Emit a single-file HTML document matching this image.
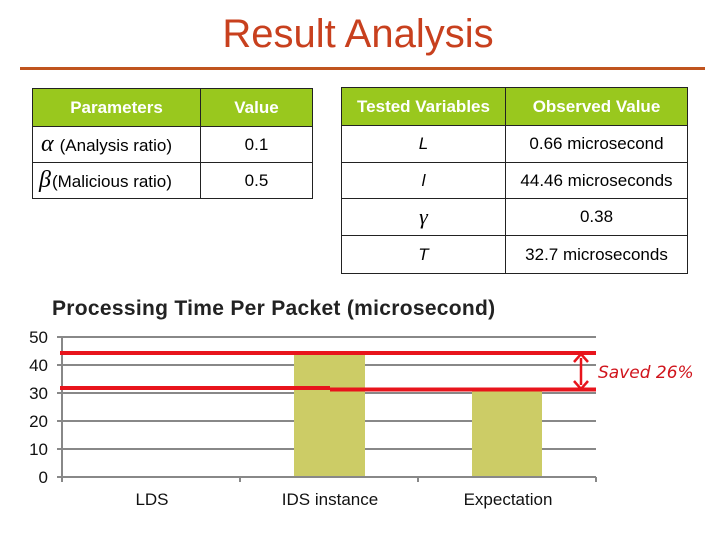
<!DOCTYPE html>
<html><head><style>
body{margin:0;width:720px;height:540px;background:#fff;position:relative;font-family:"Liberation Sans",sans-serif;overflow:hidden}
.a{position:absolute}
table{position:absolute;border-collapse:collapse;font-size:17px}
td{border:1.5px solid #222;text-align:center;padding:0}
th{background:#99c81e;color:#fff;font-weight:bold;border:1.5px solid #222;font-size:17px}
</style></head><body>
<div class="a" style="left:0;width:716px;top:12px;text-align:center;font-size:40px;color:#c8401e">Result Analysis</div>
<div class="a" style="left:20px;top:67px;width:685px;height:3px;background:#c0541e"></div>
<table style="left:32px;top:88px;width:281px">
<tr style="height:38px"><th style="width:165px">Parameters</th><th>Value</th></tr>
<tr style="height:36px"><td style="text-align:left;white-space:nowrap"><i style="font-family:'Liberation Serif';font-size:24px;padding:0 6px 0 8px">α</i>(Analysis ratio)</td><td>0.1</td></tr>
<tr style="height:36px"><td style="text-align:left;white-space:nowrap"><i style="font-family:'Liberation Serif';font-size:24px;padding:0 1px 0 6px">β</i>(Malicious ratio)</td><td>0.5</td></tr>
</table>
<table style="left:341px;top:87px;width:347px">
<tr style="height:38px"><th style="width:161px">Tested Variables</th><th>Observed Value</th></tr>
<tr style="height:37px"><td><i>L</i></td><td>0.66 microsecond</td></tr>
<tr style="height:36px"><td><i>l</i></td><td>44.46 microseconds</td></tr>
<tr style="height:37px"><td><i style="font-family:'Liberation Serif';font-size:22px">γ</i></td><td>0.38</td></tr>
<tr style="height:38px"><td><i>T</i></td><td>32.7 microseconds</td></tr>
</table>
<div class="a" style="left:52px;top:297px;font-size:21px;font-weight:bold;color:#222;white-space:nowrap;letter-spacing:0.3px">Processing Time Per Packet (microsecond)</div>
<svg class="a" style="left:0;top:0" width="720" height="540">
<g stroke="#888" stroke-width="2">
<line x1="62" x2="596" y1="337" y2="337"/><line x1="62" x2="596" y1="365" y2="365"/><line x1="62" x2="596" y1="393" y2="393"/><line x1="62" x2="596" y1="421" y2="421"/><line x1="62" x2="596" y1="449" y2="449"/><line x1="62" x2="596" y1="477" y2="477"/>
<line x1="62" x2="62" y1="337" y2="482"/><line x1="240" x2="240" y1="477" y2="482"/><line x1="418" x2="418" y1="477" y2="482"/><line x1="596" x2="596" y1="477" y2="482"/>
<line x1="57" x2="62" y1="337" y2="337"/><line x1="57" x2="62" y1="365" y2="365"/><line x1="57" x2="62" y1="393" y2="393"/><line x1="57" x2="62" y1="421" y2="421"/><line x1="57" x2="62" y1="449" y2="449"/><line x1="57" x2="62" y1="477" y2="477"/>
</g>
<rect x="294" y="353" width="71" height="123" fill="#cccc66"/>
<rect x="472" y="388" width="70" height="88" fill="#cccc66"/>
<g stroke="#e8141c" stroke-width="4">
<line x1="60" x2="596" y1="353" y2="353"/>
<line x1="60" x2="330" y1="388" y2="388"/><line x1="330" x2="596" y1="389.5" y2="389.5"/>
<line x1="581" x2="581" y1="358" y2="385" stroke-width="2.5"/>
</g>
<path d="M574 362 L581 354 L588 362 M574 381 L581 389 L588 381" stroke="#e8141c" stroke-width="2.5" fill="none"/>
<g font-size="17" fill="#111" text-anchor="end">
<text x="48" y="343">50</text><text x="48" y="371">40</text><text x="48" y="399">30</text><text x="48" y="427">20</text><text x="48" y="455">10</text><text x="48" y="483">0</text>
</g>
<g font-size="17" fill="#111" text-anchor="middle">
<text x="152" y="505">LDS</text><text x="330" y="505">IDS instance</text><text x="508" y="505">Expectation</text>
</g>
<text x="598" y="378" font-size="17" fill="#d0141c" font-style="italic" font-family="DejaVu Sans">Saved 26%</text>
</svg>
</body></html>
